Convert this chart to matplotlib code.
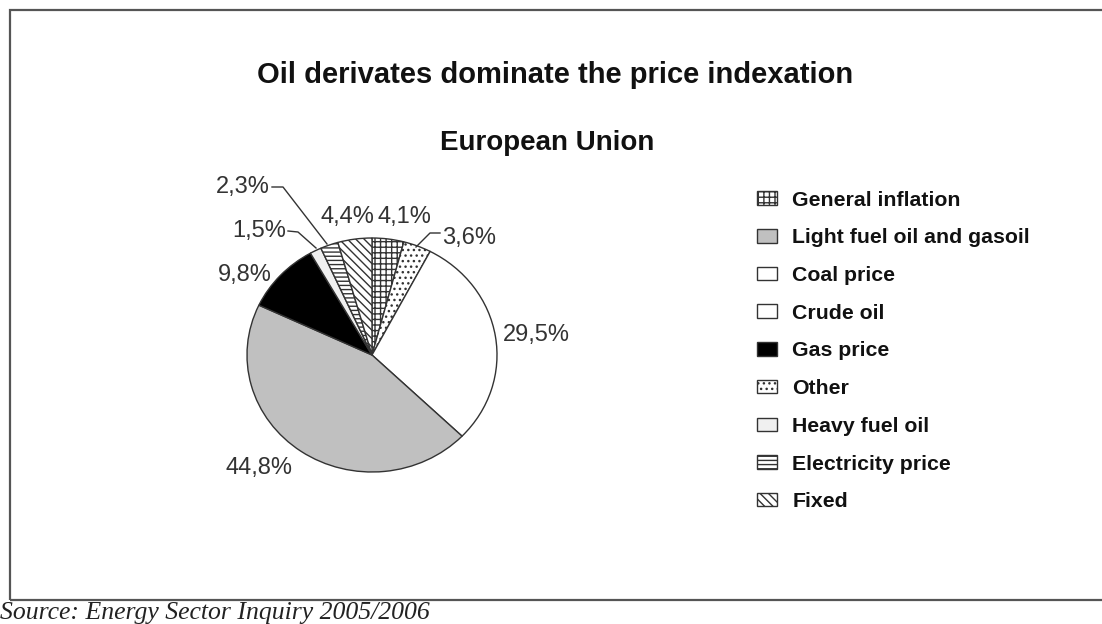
import matplotlib
matplotlib.use("Agg")
import matplotlib.pyplot as plt
from matplotlib.patches import Patch, Rectangle

# --- data ---------------------------------------------------------------
legend_labels = ["General inflation", "Light fuel oil and gasoil", "Coal price",
                 "Crude oil", "Gas price", "Other", "Heavy fuel oil",
                 "Electricity price", "Fixed"]
legend_values = [4.1, 44.8, 29.5, 0.0, 9.8, 3.6, 1.5, 2.3, 4.4]

# clockwise order in which slices appear, from 12 o'clock
pie_order = ["General inflation", "Other", "Coal price", "Light fuel oil and gasoil",
             "Gas price", "Heavy fuel oil", "Electricity price", "Fixed"]
pct_text = ["4,1%", "3,6%", "29,5%", "44,8%", "9,8%", "1,5%", "2,3%", "4,4%"]

title = "Oil derivates dominate the price indexation"
subtitle = "European Union"
source = "Source: Energy Sector Inquiry 2005/2006"

# --- styles -------------------------------------------------------------
styles = {
    "General inflation":         dict(fc="white", hatch="+++"),
    "Light fuel oil and gasoil": dict(fc="#c0c0c0", hatch=None),
    "Coal price":                dict(fc="white", hatch=None),
    "Crude oil":                 dict(fc="white", hatch=None),
    "Gas price":                 dict(fc="black", hatch=None),
    "Other":                     dict(fc="white", hatch="..."),
    "Heavy fuel oil":            dict(fc="#f0f0f0", hatch=None),
    "Electricity price":         dict(fc="white", hatch="----"),
    "Fixed":                     dict(fc="white", hatch="\\\\\\\\"),
}
EDGE = "#333333"

plt.rcParams["font.family"] = ["Liberation Sans", "DejaVu Sans"]
plt.rcParams["hatch.linewidth"] = 1.0
plt.rcParams["hatch.color"] = "#222222"

W, H = 1102, 624
fig = plt.figure(figsize=(W / 100, H / 100), dpi=100)
fig.patch.set_facecolor("white")

# outer frame
fig.patches.append(Rectangle((10 / W, 1 - 600 / H), 1.2, (600 - 10) / H,
                             transform=fig.transFigure, fill=False,
                             ec="#555555", lw=1.6))

# pie axes, sized in pixels (slightly wider than tall like the source)
cx, cy, rx, ry = 372, 355, 125, 117
ax = fig.add_axes([(cx - rx) / W, 1 - (cy + ry) / H, 2 * rx / W, 2 * ry / H])
values = [legend_values[legend_labels.index(n)] for n in pie_order]
wedges, _ = ax.pie(values, startangle=90, counterclock=False, radius=1,
                   wedgeprops=dict(edgecolor=EDGE, linewidth=1.0))
for w, n in zip(wedges, pie_order):
    w.set_facecolor(styles[n]["fc"])
    if styles[n]["hatch"]:
        w.set_hatch(styles[n]["hatch"])
ax.set_aspect("auto")
ax.set_xlim(-1, 1)
ax.set_ylim(-1, 1)
ax.axis("off")


def px(x, y):
    return ((x - cx) / rx, (cy - y) / ry)


lab_kw = dict(fontsize=17, color="#333333", ha="center", va="center")
# text centre in px, leader polyline in px (or None)
label_pos = {
    "4,1%": ((404, 217), None),
    "3,6%": ((469, 238), [(440, 233), (430, 233), (416, 247)]),
    "29,5%": ((536, 335), None),
    "44,8%": ((259, 468), None),
    "9,8%": ((245, 275), None),
    "1,5%": ((259, 231), [(288, 231), (298, 232), (316, 248)]),
    "2,3%": ((243, 187), [(272, 187), (283, 187), (327, 244)]),
    "4,4%": ((347, 217), None),
}
for t in pct_text:
    (tx, ty), line = label_pos[t]
    ax.text(*px(tx, ty), t, clip_on=False, **lab_kw)
    if line is not None:
        pts = [px(*p) for p in line]
        ax.plot([p[0] for p in pts], [p[1] for p in pts],
                color="#333333", lw=1.0, clip_on=False)

# titles
fig.text(555 / W, 1 - 75 / H, title, ha="center", va="center",
         fontsize=21, fontweight="bold", color="#111111")
fig.text(547 / W, 1 - 143 / H, subtitle, ha="center", va="center",
         fontsize=20, fontweight="bold", color="#111111")

# legend
handles = [Patch(facecolor=styles[n]["fc"], hatch=styles[n]["hatch"],
                 edgecolor=EDGE, lw=1.0) for n in legend_labels]
leg = fig.legend(handles, legend_labels, loc="upper left",
                 bbox_to_anchor=(746 / W, 1 - 180 / H), frameon=False,
                 fontsize=15.3, labelspacing=0.88, handlelength=0.96,
                 handleheight=0.6, handletextpad=0.72, borderpad=0)
for txt in leg.get_texts():
    txt.set_fontweight("bold")
    txt.set_color("#111111")

# source note
fig.text(0 / W, 1 - 613 / H, source, ha="left", va="center",
         fontsize=18.5, style="italic", color="#222222",
         family=["Liberation Serif", "DejaVu Serif"])

fig.savefig("out.png", dpi=100, facecolor="white")
